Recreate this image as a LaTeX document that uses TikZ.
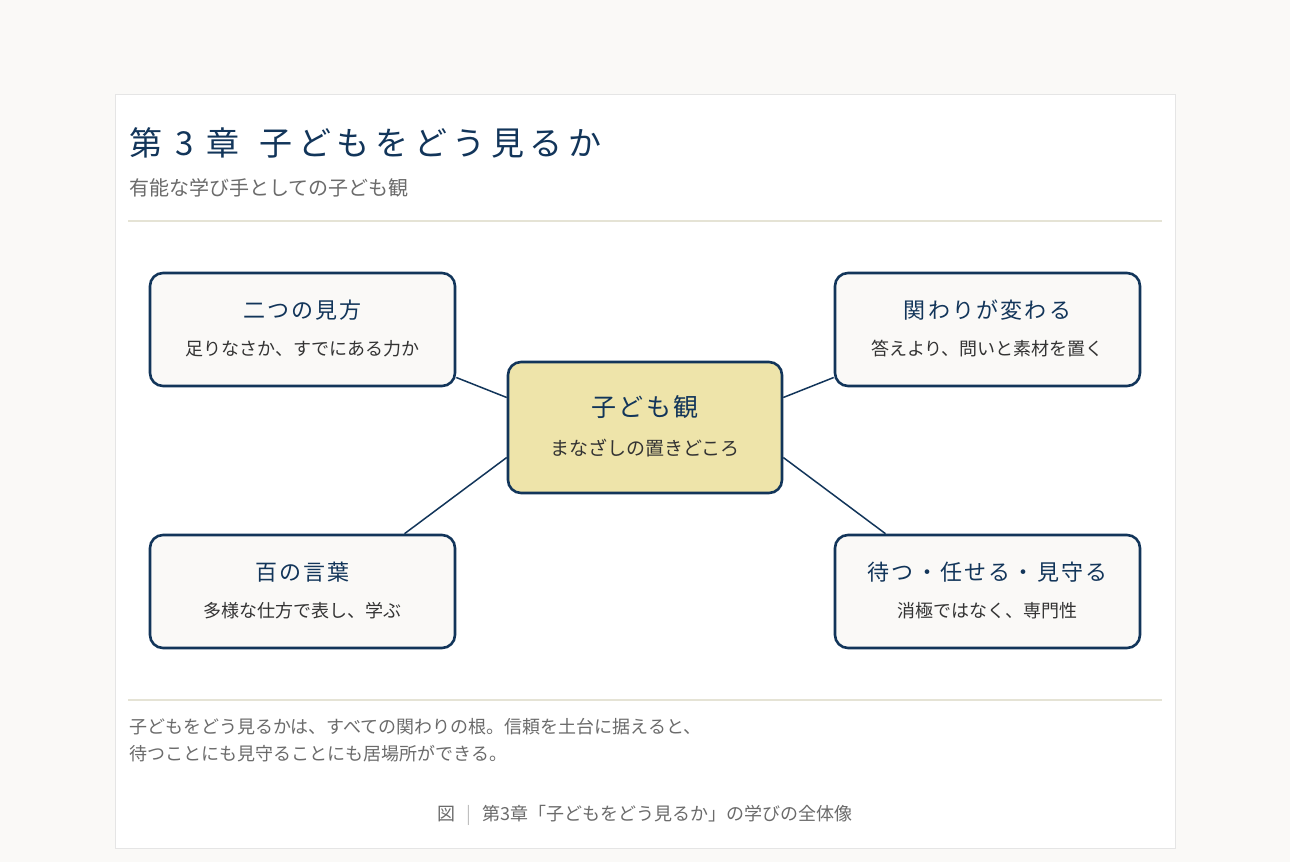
\documentclass[tikz,border=0pt]{standalone}
\usepackage{fontspec}
\setmainfont{Noto Sans CJK JP}
\newfontfamily\spaced[LetterSpace=10]{Noto Sans CJK JP}
\newfontfamily\tspaced[LetterSpace=17]{Noto Sans CJK JP}
\usetikzlibrary{calc}
\definecolor{navy}{HTML}{12355A}
\definecolor{bg}{HTML}{FAF9F7}
\definecolor{rule}{HTML}{E5E3D5}
\definecolor{gr}{HTML}{6B6B6B}
\definecolor{cfill}{HTML}{EEE4AA}
\definecolor{bfill}{HTML}{FAF9F7}
\begin{document}
\begin{tikzpicture}[x=1pt,y=-1pt,
 box/.style={draw=navy,line width=2.6pt,rounded corners=13pt,fill=bfill,minimum width=305pt,minimum height=113pt},
 ttl/.style={text=navy,font=\spaced\fontsize{22}{26}\selectfont},
 sub/.style={text=black!80,font=\fontsize{18}{22}\selectfont},
 conn/.style={draw=navy,line width=1.5pt}]
\path[fill=bg] (0,0) rectangle (1290,862);
\useasboundingbox (0,0) rectangle (1290,862);
\draw[fill=white,draw=black!10] (115,94) rectangle (1175,848);
\node[anchor=west,text=navy,font=\tspaced\fontsize{33}{38}\selectfont] (title) at (126,143) {第 3 章\hspace{0.6em}子どもをどう見るか};
\node[anchor=west,text=gr,font=\fontsize{20}{24}\selectfont] (subt) at (126,188) {有能な学び手としての子ども観};
\draw[rule,line width=2pt] (128,221) -- (1162,221);
\draw[rule,line width=2pt] (128,700) -- (1162,700);

\node[box] (tl) at (302.5,329.5) {};
\node[box] (tr) at (987.5,329.5) {};
\node[box] (bl) at (302.5,591.5) {};
\node[box] (br) at (987.5,591.5) {};
\node[box,fill=cfill,minimum width=274pt,minimum height=131pt] (c) at (645,427.5) {};

\draw[conn] ($(c.west)+(0,-30)$) -- ($(tl.east)+(0,48)$);
\draw[conn] ($(c.east)+(0,-30)$) -- ($(tr.west)+(0,48)$);
\draw[conn] ($(c.west)+(0,30)$) -- ($(bl.north)+(102,0)$);
\draw[conn] ($(c.east)+(0,30)$) -- ($(br.north)+(-102,0)$);

\node[ttl] (tlt) at (302.5,310) {二つの見方};
\node[sub] (tls) at (302.5,349) {足りなさか、すでにある力か};
\node[ttl] (trt) at (987.5,310) {関わりが変わる};
\node[sub] (trs) at (987.5,349) {答えより、問いと素材を置く};
\node[ttl] (blt) at (302.5,572) {百の言葉};
\node[sub] (bls) at (302.5,611) {多様な仕方で表し、学ぶ};
\node[ttl] (brt) at (987.5,572) {待つ・任せる・見守る};
\node[sub] (brs) at (987.5,611) {消極ではなく、専門性};
\node[ttl,font=\spaced\fontsize{25}{30}\selectfont] (ct) at (645,407) {子ども観};
\node[sub,font=\fontsize{19}{23}\selectfont] (cs) at (645,448) {まなざしの置きどころ};

\node[anchor=west,text=gr,font=\fontsize{18}{27}\selectfont,align=left] (foot) at (126,740) {子どもをどう見るかは、すべての関わりの根。信頼を土台に据えると、\\待つことにも見守ることにも居場所ができる。};
\node[text=gr,font=\fontsize{18}{22}\selectfont] (cap) at (645,815) {図\hspace{0.6em}{\color{black!25}|}\hspace{0.6em}第3章「子どもをどう見るか」の学びの全体像};
\end{tikzpicture}
\end{document}
